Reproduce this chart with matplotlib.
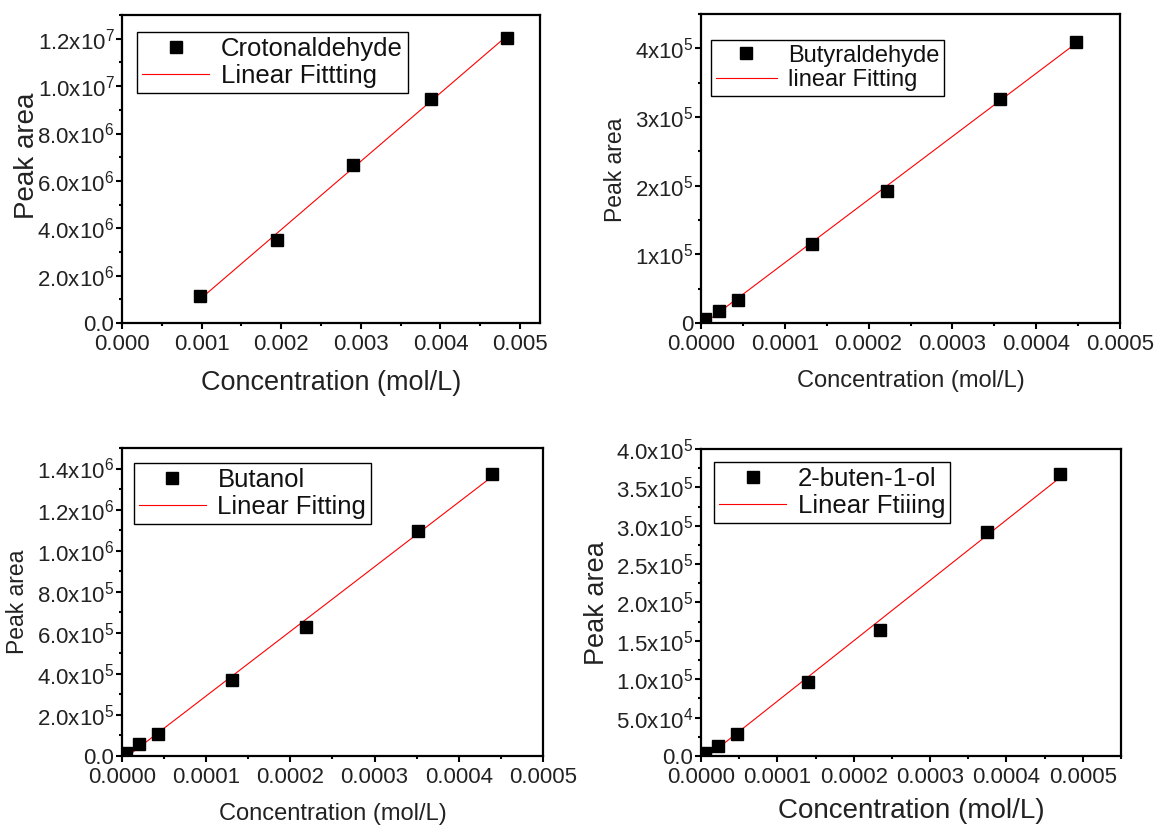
import numpy as np
import matplotlib
matplotlib.use("Agg")
import matplotlib.pyplot as plt
from matplotlib.ticker import MultipleLocator

plt.rcParams["font.family"] = ["Liberation Sans", "DejaVu Sans"]
plt.rcParams["mathtext.fontset"] = "custom"
plt.rcParams["mathtext.rm"] = "Liberation Sans"
plt.rcParams["mathtext.default"] = "regular"

# ---- data ----
croton_x = [0.00098, 0.00195, 0.00290, 0.00388, 0.00483]
croton_y = [1.13e6, 3.52e6, 6.65e6, 9.47e6, 1.204e7]

butyr_x = [5.3e-6, 2.1e-5, 4.4e-5, 1.33e-4, 2.22e-4, 3.57e-4, 4.47e-4]
butyr_y = [6.0e3, 1.76e4, 3.4e4, 1.15e5, 1.93e5, 3.26e5, 4.10e5]

butanol_x = [4.4e-6, 2.0e-5, 4.3e-5, 1.31e-4, 2.19e-4, 3.51e-4, 4.39e-4]
butanol_y = [1.3e4, 5.7e4, 1.08e5, 3.68e5, 6.27e5, 1.098e6, 1.372e6]

butenol_x = [4.8e-6, 2.27e-5, 4.7e-5, 1.40e-4, 2.34e-4, 3.74e-4, 4.70e-4]
butenol_y = [4.4e3, 1.35e4, 2.9e4, 9.6e4, 1.64e5, 2.92e5, 3.67e5]

# tick labels
croton_xticks = [0.0, 0.001, 0.002, 0.003, 0.004, 0.005]
croton_xlabels = ["0.000", "0.001", "0.002", "0.003", "0.004", "0.005"]
croton_yticks = [0, 2e6, 4e6, 6e6, 8e6, 1e7, 1.2e7]
croton_ylabels = ["0.0", "2.0x10$^6$", "4.0x10$^6$", "6.0x10$^6$", "8.0x10$^6$",
                  "1.0x10$^7$", "1.2x10$^7$"]

small_xticks = [0.0, 0.0001, 0.0002, 0.0003, 0.0004, 0.0005]
small_xlabels = ["0.0000", "0.0001", "0.0002", "0.0003", "0.0004", "0.0005"]

butyr_yticks = [0, 1e5, 2e5, 3e5, 4e5]
butyr_ylabels = ["0", "1x10$^5$", "2x10$^5$", "3x10$^5$", "4x10$^5$"]

butanol_yticks = [0, 2e5, 4e5, 6e5, 8e5, 1e6, 1.2e6, 1.4e6]
butanol_ylabels = ["0.0", "2.0x10$^5$", "4.0x10$^5$", "6.0x10$^5$", "8.0x10$^5$",
                   "1.0x10$^6$", "1.2x10$^6$", "1.4x10$^6$"]

butenol_yticks = [0, 5e4, 1e5, 1.5e5, 2e5, 2.5e5, 3e5, 3.5e5, 4e5]
butenol_ylabels = ["0.0", "5.0x10$^4$", "1.0x10$^5$", "1.5x10$^5$", "2.0x10$^5$",
                   "2.5x10$^5$", "3.0x10$^5$", "3.5x10$^5$", "4.0x10$^5$"]


def panel(rect, x, y, name, fitname, xlim, ylim, xt, xtl, yt, ytl, xminor, yminor,
          legend_anchor, legend_fs, xlab_fs, xlab_pos, ylab_fs, ylab_pos):
    ax = fig.add_axes(rect)
    ax.plot(x, y, "s", color="black", markersize=8.5, label=name, zorder=3)
    k, b = np.polyfit(x, y, 1)
    xf = np.array([min(x), max(x)])
    ax.plot(xf, k * xf + b, "-", color="red", lw=0.8, label=fitname, zorder=2)

    ax.set_xlim(*xlim)
    ax.set_ylim(*ylim)
    ax.set_xticks(xt)
    ax.set_xticklabels(xtl)
    ax.set_yticks(yt)
    ax.set_yticklabels(ytl)
    ax.xaxis.set_minor_locator(MultipleLocator(xminor))
    ax.yaxis.set_minor_locator(MultipleLocator(yminor))
    ax.tick_params(which="major", direction="out", length=4, width=1.5,
                   labelsize=16, colors="black", labelcolor="#222222")
    ax.tick_params(which="minor", direction="out", length=2, width=1.5)
    ax.tick_params(axis="x", which="major", pad=4)
    ax.tick_params(axis="y", which="major", pad=1.5)
    for s in ax.spines.values():
        s.set_linewidth(1.6)

    ax.set_xlabel("Concentration (mol/L)", fontsize=xlab_fs, color="#222222")
    ax.xaxis.set_label_coords(0.5, xlab_pos)
    ax.xaxis.label.set_va("center")
    ax.set_ylabel("Peak area", fontsize=ylab_fs, color="#222222")
    ax.yaxis.set_label_coords(ylab_pos[0], ylab_pos[1])
    ax.yaxis.label.set_va("center")

    leg = ax.legend(loc="upper left", bbox_to_anchor=legend_anchor, borderaxespad=0,
                    fontsize=legend_fs, fancybox=False, framealpha=1,
                    edgecolor="black", handlelength=2.6, handletextpad=0.45,
                    borderpad=0.2, labelspacing=0.1, numpoints=1)
    leg.get_frame().set_linewidth(1.0)
    for t in leg.get_texts():
        t.set_color("#111111")
    return ax


fig = plt.figure(figsize=(11.56, 8.27), dpi=100)

panel([0.1055, 0.6094, 0.3616, 0.3724], croton_x, croton_y,
      "Crotonaldehyde", "Linear Fittting", (0, 0.00525), (0, 1.3e7),
      croton_xticks, croton_xlabels, croton_yticks, croton_ylabels, 0.0005, 1e6,
      (0.036, 0.945), 18.5, 19.5, -0.195, 20, (-0.226, 0.542))

panel([0.6064, 0.6094, 0.3625, 0.3736], butyr_x, butyr_y,
      "Butyraldehyde", "linear Fitting", (0, 0.0005), (0, 4.5e5),
      small_xticks, small_xlabels, butyr_yticks, butyr_ylabels, 0.00005, 5e4,
      (0.024, 0.916), 17, 17, -0.188, 16.5, (-0.205, 0.495))

panel([0.1055, 0.0859, 0.3642, 0.3724], butanol_x, butanol_y,
      "Butanol", "Linear Fitting", (0, 0.0005), (0, 1.5e6),
      small_xticks, small_xlabels, butanol_yticks, butanol_ylabels, 0.00005, 1e5,
      (0.0285, 0.951), 18.5, 17, -0.19, 16.5, (-0.249, 0.5))

panel([0.6064, 0.0859, 0.3633, 0.3712], butenol_x, butenol_y,
      "2-buten-1-ol", "Linear Ftiiing", (0, 0.00055), (0, 4e5),
      small_xticks, small_xlabels, butenol_yticks, butenol_ylabels, 0.00005, 2.5e4,
      (0.031, 0.958), 18.5, 20, -0.178, 19.5, (-0.248, 0.498))

fig.savefig("out.png", dpi=100)
